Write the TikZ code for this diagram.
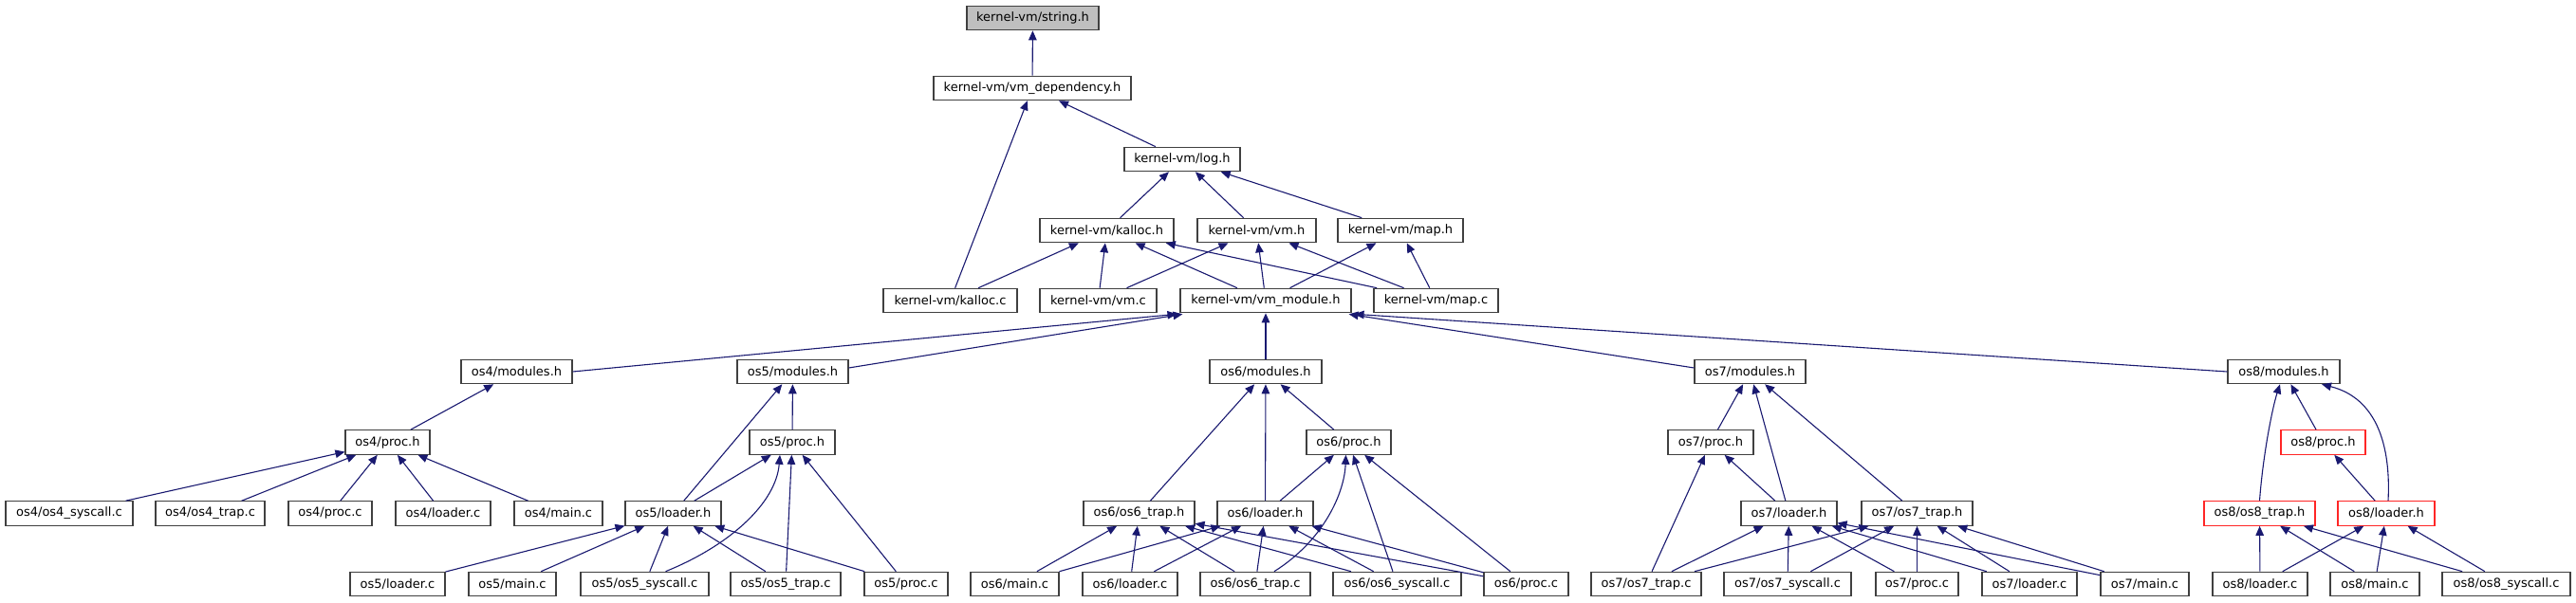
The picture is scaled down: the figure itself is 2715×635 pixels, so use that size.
\documentclass[tikz,border=0pt]{standalone}
\usepackage{fontspec}
\setmainfont{DejaVu Sans}
\usetikzlibrary{arrows.meta}
\definecolor{edgecol}{HTML}{191970}
\definecolor{boxcol}{HTML}{404040}
\definecolor{fillgray}{HTML}{BFBFBF}
\begin{document}
\begin{tikzpicture}[x=1pt,y=-1pt,
  box/.style={draw=boxcol,line width=1.1pt,fill=white,rectangle,inner sep=0pt,minimum height=25.5pt,font=\fontsize{13}{15}\selectfont},
  redbox/.style={box,draw=red!85},
  edge/.style={draw=edgecol,line width=1.1pt,-{Triangle[length=10pt,width=8.5pt]}}]
\useasboundingbox (0,0) rectangle (2715,635);
% row 0-4
\node[box,fill=fillgray,minimum width=139] (str) at (1088.5,19) {kernel-vm/string.h};
\node[box,minimum width=208] (vmdep) at (1088,93) {kernel-vm/vm\_dependency.h};
\node[box,minimum width=122] (log) at (1246,168) {kernel-vm/log.h};
\node[box,minimum width=141] (kallh) at (1166.5,243) {kernel-vm/kalloc.h};
\node[box,minimum width=125] (vmh) at (1324.5,243) {kernel-vm/vm.h};
\node[box,minimum width=132] (maph) at (1476,243) {kernel-vm/map.h};
\node[box,minimum width=141] (kallc) at (1001.5,317) {kernel-vm/kalloc.c};
\node[box,minimum width=123] (vmc) at (1157.5,317) {kernel-vm/vm.c};
\node[box,minimum width=180] (vmmod) at (1334,317) {kernel-vm/vm\_module.h};
\node[box,minimum width=131] (mapc) at (1513.5,317) {kernel-vm/map.c};
% row 5
\node[box,minimum width=117] (os4mod) at (544.5,392) {os4/modules.h};
\node[box,minimum width=117] (os5mod) at (835.5,392) {os5/modules.h};
\node[box,minimum width=118] (os6mod) at (1334,392) {os6/modules.h};
\node[box,minimum width=117] (os7mod) at (1844.5,392) {os7/modules.h};
\node[box,minimum width=118] (os8mod) at (2407,392) {os8/modules.h};
% row 6
\node[box,minimum width=89] (os4proch) at (408.5,466.5) {os4/proc.h};
\node[box,minimum width=90] (os5proch) at (835,466.5) {os5/proc.h};
\node[box,minimum width=89] (os6proch) at (1421.5,466.5) {os6/proc.h};
\node[box,minimum width=90] (os7proch) at (1803,466.5) {os7/proc.h};
\node[redbox,minimum width=89] (os8proch) at (2448.5,466.5) {os8/proc.h};
% row 7
\node[box,minimum width=134] (os4sys) at (73,541.5) {os4/os4\_syscall.c};
\node[box,minimum width=115] (os4trap) at (221.5,541.5) {os4/os4\_trap.c};
\node[box,minimum width=88] (os4procc) at (348,541.5) {os4/proc.c};
\node[box,minimum width=100] (os4load) at (467,541.5) {os4/loader.c};
\node[box,minimum width=93] (os4main) at (588.5,541.5) {os4/main.c};
\node[box,minimum width=101] (os5loadh) at (709.5,541.5) {os5/loader.h};
\node[box,minimum width=117] (os6traph) at (1200.5,541.5) {os6/os6\_trap.h};
\node[box,minimum width=101] (os6loadh) at (1333.5,541.5) {os6/loader.h};
\node[box,minimum width=101] (os7loadh) at (1885.5,541.5) {os7/loader.h};
\node[box,minimum width=117] (os7traph) at (2020.5,541.5) {os7/os7\_trap.h};
\node[redbox,minimum width=117] (os8traph) at (2381.5,541.5) {os8/os8\_trap.h};
\node[redbox,minimum width=102] (os8loadh) at (2515,541.5) {os8/loader.h};
% row 8
\node[box,minimum width=100] (os5loadc) at (419,616) {os5/loader.c};
\node[box,minimum width=92] (os5main) at (540,616) {os5/main.c};
\node[box,minimum width=135] (os5sys) at (679.5,616) {os5/os5\_syscall.c};
\node[box,minimum width=116] (os5trap) at (828,616) {os5/os5\_trap.c};
\node[box,minimum width=88] (os5procc) at (955,616) {os5/proc.c};
\node[box,minimum width=93] (os6main) at (1069.5,616) {os6/main.c};
\node[box,minimum width=100] (os6loadc) at (1191,616) {os6/loader.c};
\node[box,minimum width=116] (os6trapc) at (1323,616) {os6/os6\_trap.c};
\node[box,minimum width=135] (os6sys) at (1472.5,616) {os6/os6\_syscall.c};
\node[box,minimum width=89] (os6procc) at (1608.5,616) {os6/proc.c};
\node[box,minimum width=116] (os7trapc) at (1735,616) {os7/os7\_trap.c};
\node[box,minimum width=134] (os7sys) at (1884,616) {os7/os7\_syscall.c};
\node[box,minimum width=87] (os7procc) at (2020.5,616) {os7/proc.c};
\node[box,minimum width=100] (os7loadc) at (2139,616) {os7/loader.c};
\node[box,minimum width=93] (os7main) at (2260.5,616) {os7/main.c};
\node[box,minimum width=100] (os8loadc) at (2382,616) {os8/loader.c};
\node[box,minimum width=94] (os8main) at (2503,616) {os8/main.c};
\node[box,minimum width=135] (os8sys) at (2641.5,616) {os8/os8\_syscall.c};
% edges: kernel-vm
\draw[edge] (vmdep) -- (str);
\draw[edge] (log) -- (vmdep);
\draw[edge] (kallc) -- (vmdep);
\foreach \a in {kallh,vmh,maph} \draw[edge] (\a) -- (log);
\foreach \a in {kallc,vmc,vmmod,mapc} \draw[edge] (\a) -- (kallh);
\foreach \a in {vmc,vmmod,mapc} \draw[edge] (\a) -- (vmh);
\foreach \a in {vmmod,mapc} \draw[edge] (\a) -- (maph);
\draw[edge] (os4mod.east) -- ([xshift=-3pt,yshift=-1pt]vmmod.south west);
\draw[edge] ([yshift=4pt]os5mod.east) -- ([xshift=3pt,yshift=-1pt]vmmod.south west);
\draw[edge] (os6mod) -- (vmmod);
\draw[edge] ([yshift=4pt]os7mod.west) -- ([xshift=-3pt,yshift=-1pt]vmmod.south east);
\draw[edge] (os8mod.west) -- ([xshift=3pt,yshift=-1pt]vmmod.south east);
% os4
\draw[edge] (os4proch) -- (os4mod);
\foreach \a in {os4sys,os4trap,os4procc,os4load,os4main} \draw[edge] (\a) -- (os4proch);
% os5
\draw[edge] (os5proch) -- (os5mod);
\draw[edge] (os5loadh) -- (os5mod);
\draw[edge] (os5loadh) -- (os5proch);
\draw[edge] ([xshift=22pt]os5sys.north) .. controls (770,575) and (818,530) .. ([xshift=-13pt]os5proch.south);
\draw[edge] (os5trap) -- (os5proch);
\draw[edge] (os5procc) -- (os5proch);
\foreach \a in {os5loadc,os5main,os5sys,os5trap,os5procc} \draw[edge] (\a) -- (os5loadh);
% os6
\foreach \a in {os6traph,os6loadh,os6proch} \draw[edge] (\a) -- (os6mod);
\draw[edge] (os6loadh) -- (os6proch);
\draw[edge] ([xshift=20pt]os6trapc.north) .. controls (1395,570) and (1417,520) .. ([xshift=-3pt]os6proch.south);
\draw[edge] (os6sys) -- (os6proch);
\draw[edge] (os6procc) -- (os6proch);
\foreach \a in {os6main,os6loadc,os6trapc,os6sys,os6procc} {
  \draw[edge] (\a) -- (os6traph);
  \draw[edge] (\a) -- (os6loadh);
}
% os7
\foreach \a in {os7proch,os7loadh,os7traph} \draw[edge] (\a) -- (os7mod);
\draw[edge] (os7loadh) -- (os7proch);
\draw[edge] (os7trapc) -- (os7proch);
\foreach \a in {os7trapc,os7sys,os7procc,os7loadc,os7main} {
  \draw[edge] (\a) -- (os7loadh);
  \draw[edge] (\a) -- (os7traph);
}
% os8
\draw[edge] (os8traph.north) .. controls (2385,480) and (2395,430) .. ([xshift=-4pt]os8mod.south);
\draw[edge] (os8proch) -- (os8mod);
\draw[edge] ([xshift=2pt]os8loadh.north) .. controls (2520,470) and (2505,420) .. ([xshift=40pt]os8mod.south);
\draw[edge] (os8loadh) -- (os8proch);
\foreach \a in {os8loadc,os8main,os8sys} {
  \draw[edge] (\a) -- (os8traph);
  \draw[edge] (\a) -- (os8loadh);
}
\end{tikzpicture}
\end{document}
